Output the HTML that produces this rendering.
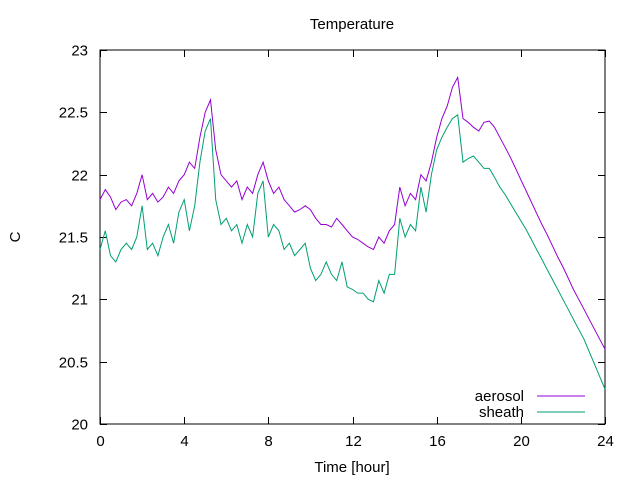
<!DOCTYPE html>
<html><head><meta charset="utf-8"><style>
body{margin:0;background:#fff;}
svg text{font-family:"Liberation Sans","DejaVu Sans",sans-serif;font-size:15px;fill:#000;}
</style></head><body>
<svg width="640" height="480" xmlns="http://www.w3.org/2000/svg">
<g id="axes"></g>
<g id="series"></g>
<text x="352" y="29" text-anchor="middle">Temperature</text>
<text x="352" y="472" text-anchor="middle">Time [hour]</text>
<text x="20" y="237" text-anchor="middle" transform="rotate(-90 20 237)">C</text>
<g>
<text x="524" y="401" text-anchor="end">aerosol</text>
<line x1="537" y1="396" x2="585" y2="396" stroke="#9400d3" stroke-width="1"/>
<text x="524" y="417" text-anchor="end">sheath</text>
<line x1="537" y1="412" x2="585" y2="412" stroke="#009e73" stroke-width="1"/>
</g>
</svg>
<script>
const xTicks=[0,4,8,12,16,20,24];
const yTicks=[20,20.5,21,21.5,22,22.5,23];
const yTickLabels=["20","20.5","21","21.5","22","22.5","23"];
const aerosol=[21.8,21.88,21.82,21.72,21.78,21.8,21.75,21.85,22.0,21.8,21.85,21.78,21.82,21.9,21.85,21.95,22.0,22.1,22.05,22.3,22.5,22.6,22.2,22.0,21.95,21.9,21.95,21.8,21.9,21.85,22.0,22.1,21.95,21.85,21.9,21.8,21.75,21.7,21.72,21.75,21.72,21.65,21.6,21.6,21.58,21.65,21.6,21.55,21.5,21.48,21.45,21.42,21.4,21.5,21.45,21.55,21.6,21.9,21.75,21.85,21.8,22.0,21.95,22.1,22.3,22.45,22.55,22.7,22.78,22.45,22.42,22.38,22.35,22.42,22.43,22.38,22.3,22.22,22.14,22.05,21.96,21.87,21.78,21.69,21.6,21.52,21.43,21.34,21.26,21.17,21.08,21.0,20.92,20.84,20.76,20.68,20.6];
const sheath=[21.4,21.55,21.35,21.3,21.4,21.45,21.4,21.5,21.75,21.4,21.45,21.35,21.5,21.6,21.45,21.7,21.8,21.55,21.75,22.1,22.35,22.45,21.8,21.6,21.65,21.55,21.6,21.45,21.6,21.5,21.85,21.95,21.5,21.6,21.55,21.4,21.45,21.35,21.4,21.45,21.25,21.15,21.2,21.3,21.2,21.15,21.3,21.1,21.08,21.05,21.05,21.0,20.98,21.15,21.05,21.2,21.2,21.65,21.5,21.6,21.55,21.9,21.7,22.0,22.2,22.3,22.38,22.45,22.48,22.1,22.13,22.15,22.1,22.05,22.05,21.98,21.9,21.84,21.77,21.7,21.63,21.56,21.48,21.4,21.32,21.24,21.16,21.08,21.0,20.92,20.84,20.76,20.68,20.58,20.48,20.38,20.28];
const L=100,R=605,T=50,B=424;
const sx=v=>L+(v-0)/(24-0)*(R-L);
const sy=v=>B-(v-20)/(23-20)*(B-T);
const NS="http://www.w3.org/2000/svg";
function mk(tag,attrs,parent){const e=document.createElementNS(NS,tag);for(const k in attrs)e.setAttribute(k,attrs[k]);parent.appendChild(e);return e;}
const ax=document.getElementById('axes');
const frame=mk('rect',{x:L,y:T,width:R-L,height:B-T,fill:'none',stroke:'#000','stroke-width':1},ax);


xTicks.forEach(v=>{
 const x=Math.round(sx(v))+0.5;
 const t1=mk('line',{x1:x,y1:B,x2:x,y2:B-7,stroke:'#000'},ax);
 
 
 const t2=mk('line',{x1:x,y1:T,x2:x,y2:T+7,stroke:'#000'},ax);
 
 
 const tx=mk('text',{x:x,y:B+22,'text-anchor':'middle'},ax);tx.textContent=String(v);
 
 
});
yTicks.forEach((v,i)=>{
 const y=Math.round(sy(v))+0.5;
 const t1=mk('line',{x1:L,y1:y,x2:L+7,y2:y,stroke:'#000'},ax);
 
 
 const t2=mk('line',{x1:R,y1:y,x2:R-7,y2:y,stroke:'#000'},ax);
 
 
 const tx=mk('text',{x:L-12,y:y+5,'text-anchor':'end'},ax);tx.textContent=yTickLabels[i];
 
 
});
const sg=document.getElementById('series');
function draw(arr,color,name){
 const pts=arr.map((v,i)=>sx(i*24/(arr.length-1)).toFixed(1)+','+sy(v).toFixed(1)).join(' ');
 const p=mk('polyline',{points:pts,fill:'none',stroke:color,'stroke-width':1},sg);
 
 
}
draw(aerosol,'#9400d3','aerosol-line');
draw(sheath,'#009e73','sheath-line');
</script>
</body></html>
